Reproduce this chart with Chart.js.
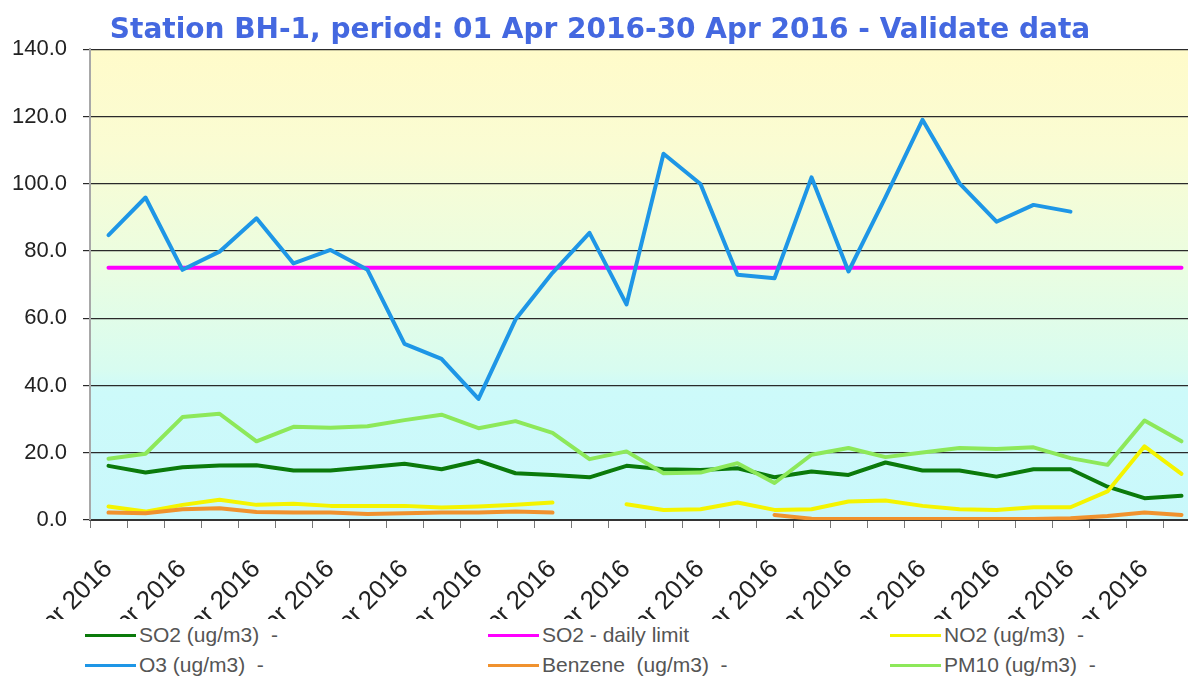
<!DOCTYPE html>
<html>
<head>
<meta charset="utf-8">
<script src="https://cdn.jsdelivr.net/npm/chart.js@4.4.1/dist/chart.umd.min.js"></script>
<style>
    html, body { margin: 0; padding: 0; background: #fff; }
    #wrap { width: 1188px; height: 676px; overflow: hidden; position: relative; }
    canvas { display: block; }
    .legend { position: absolute; left: 0; top: 619px; width: 1188px; height: 57px; background: #fff; font: 21px "Liberation Sans", Arial, sans-serif; color: #555; }
    .legend-item { position: absolute; display: flex; align-items: center; white-space: pre; height: 24px; }
    .legend-line { width: 51px; height: 3px; margin-right: 3px; }
</style>
</head>
<body>
<div id="wrap">
    <canvas id="chart" width="1200" height="622"></canvas>
    <div class="legend" id="legend"></div>
</div>
<script>
const days = [
    '01 Apr 2016', '02 Apr 2016', '03 Apr 2016', '04 Apr 2016', '05 Apr 2016',
    '06 Apr 2016', '07 Apr 2016', '08 Apr 2016', '09 Apr 2016', '10 Apr 2016',
    '11 Apr 2016', '12 Apr 2016', '13 Apr 2016', '14 Apr 2016', '15 Apr 2016',
    '16 Apr 2016', '17 Apr 2016', '18 Apr 2016', '19 Apr 2016', '20 Apr 2016',
    '21 Apr 2016', '22 Apr 2016', '23 Apr 2016', '24 Apr 2016', '25 Apr 2016',
    '26 Apr 2016', '27 Apr 2016', '28 Apr 2016', '29 Apr 2016', '30 Apr 2016'
];

const so2 = [16.1, 14.1, 15.7, 16.2, 16.3, 14.7, 14.7, 15.7, 16.7, 15.1,
    17.6, 13.9, 13.4, 12.7, 16.1, 15.1, 14.9, 15.4, 12.7, 14.4,
    13.4, 17.1, 14.7, 14.7, 12.9, 15.1, 15.1, 9.9, 6.5, 7.2];
const so2Limit = [75, 75, 75, 75, 75, 75, 75, 75, 75, 75,
    75, 75, 75, 75, 75, 75, 75, 75, 75, 75,
    75, 75, 75, 75, 75, 75, 75, 75, 75, 75];
const no2 = [4.0, 2.5, 4.5, 6.0, 4.5, 4.8, 4.2, 4.2, 4.2, 3.7,
    4.0, 4.5, 5.2, null, 4.7, 3.0, 3.2, 5.2, 3.0, 3.2,
    5.5, 5.8, 4.2, 3.2, 3.0, 3.8, 3.8, 8.5, 21.9, 13.7];
const o3 = [84.7, 95.9, 74.4, 79.8, 89.7, 76.3, 80.3, 74.4, 52.4, 47.9,
    36.0, 59.6, 73.5, 85.4, 64.1, 108.9, 99.9, 72.9, 71.9, 101.9,
    73.9, 96.0, 119.0, 100.1, 88.7, 93.7, 91.7, null, null, null];
const benzene = [2.2, 2.0, 3.2, 3.5, 2.4, 2.2, 2.2, 1.8, 2.0, 2.2,
    2.2, 2.5, 2.2, null, null, null, null, null, 1.5, 0.4,
    0.3, 0.3, 0.3, 0.3, 0.3, 0.3, 0.5, 1.2, 2.2, 1.5];
const pm10 = [18.2, 19.7, 30.6, 31.6, 23.4, 27.7, 27.4, 27.9, 29.7, 31.3,
    27.3, 29.4, 25.9, 18.1, 20.4, 13.9, 14.1, 16.9, 11.0, 19.4,
    21.4, 18.7, 20.1, 21.4, 21.1, 21.6, 18.4, 16.4, 29.6, 23.4];

const yTicks = { min: 0, max: 140, step: 20 };

const series = [
    { label: 'SO2 (ug/m3)  -', data: so2, color: '#0b7a0b' },
    { label: 'SO2 - daily limit', data: so2Limit, color: '#ff00ff' },
    { label: 'NO2 (ug/m3)  -', data: no2, color: '#f4f400' },
    { label: 'O3 (ug/m3)  -', data: o3, color: '#1e96e6' },
    { label: 'Benzene  (ug/m3)  -', data: benzene, color: '#f0922e' },
    { label: 'PM10 (ug/m3)  -', data: pm10, color: '#8de85a' }
];

const plotBackground = {
    id: 'plotBackground',
    beforeDraw(chart) {
        const { ctx, chartArea } = chart;
        const y = chart.scales.y;
        const g = ctx.createLinearGradient(0, chartArea.top, 0, chartArea.bottom);
        const stop = (v) => (y.getPixelForValue(v) - chartArea.top) / (chartArea.bottom - chartArea.top);
        g.addColorStop(stop(140), '#fffbca');
        g.addColorStop(stop(110), '#fafcd3');
        g.addColorStop(stop(75), '#eafde1');
        g.addColorStop(stop(45), '#d8fcf0');
        g.addColorStop(stop(38), '#cdfafa');
        g.addColorStop(stop(0), '#c9f8fb');
        ctx.save();
        ctx.fillStyle = g;
        ctx.fillRect(chartArea.left, chartArea.top, chartArea.right - chartArea.left, chartArea.bottom - chartArea.top);
        ctx.restore();
    }
};

new Chart(document.getElementById('chart').getContext('2d'), {
    type: 'line',
    data: {
        labels: days,
        datasets: series.map((s, i) => ({
            label: s.label,
            data: s.data,
            borderColor: s.color,
            backgroundColor: s.color,
            borderWidth: 4,
            pointRadius: 0,
            tension: 0,
            spanGaps: false,
            borderCapStyle: 'round',
            borderJoinStyle: 'round',
            order: series.length - i
        }))
    },
    options: {
        responsive: false,
        animation: false,
        layout: { padding: 0 },
        plugins: {
            legend: { display: false },
            tooltip: { enabled: false },
            title: {
                display: true,
                text: 'Station BH-1, period: 01 Apr 2016-30 Apr 2016 - Validate data',
                color: '#4468e0',
                font: { family: '"DejaVu Sans", Verdana, sans-serif', weight: 'bold', size: 28, lineHeight: 1.15 },
                padding: { top: 15, bottom: 2 }
            }
        },
        scales: {
            x: {
                offset: true,
                grid: { offset: true, drawOnChartArea: false, drawTicks: true, tickLength: 8, color: '#777' },
                border: { color: '#333', width: 2 },
                ticks: {
                    autoSkip: false,
                    minRotation: 45,
                    maxRotation: 45,
                    color: '#222',
                    padding: 26,
                    font: { family: '"Liberation Sans", Arial, sans-serif', size: 26 },
                    callback: (value, index) => (index % 2 === 0 ? days[index] : '')
                },
                afterFit: (scale) => {
                    scale.height = 102;
                    scale.paddingLeft = 0;
                    scale.paddingRight = 0;
                }
            },
            y: {
                min: yTicks.min,
                max: yTicks.max,
                grid: { color: '#2a2a2a', lineWidth: 1.2, tickLength: 7, drawTicks: true },
                border: { color: '#a8a8a8', width: 2 },
                ticks: {
                    stepSize: yTicks.step,
                    color: '#222',
                    padding: 16,
                    font: { family: '"Liberation Sans", Arial, sans-serif', size: 22 },
                    callback: (v) => Number(v).toFixed(1)
                },
                afterFit: (scale) => {
                    scale.width = 90;
                    scale.paddingTop = 0;
                    scale.paddingBottom = 0;
                }
            }
        }
    },
    plugins: [plotBackground]
});

const legendEl = document.getElementById('legend');
const legendCols = [85, 488, 890];
series.forEach((s, i) => {
    const item = document.createElement('div');
    item.className = 'legend-item';
    item.style.left = legendCols[i % 3] + 'px';
    item.style.top = (Math.floor(i / 3) * 30 + 4) + 'px';
    item.innerHTML = `<span class="legend-line" style="background:${s.color}"></span><span>${s.label}</span>`;
    legendEl.appendChild(item);
});
</script>
</body>
</html>
